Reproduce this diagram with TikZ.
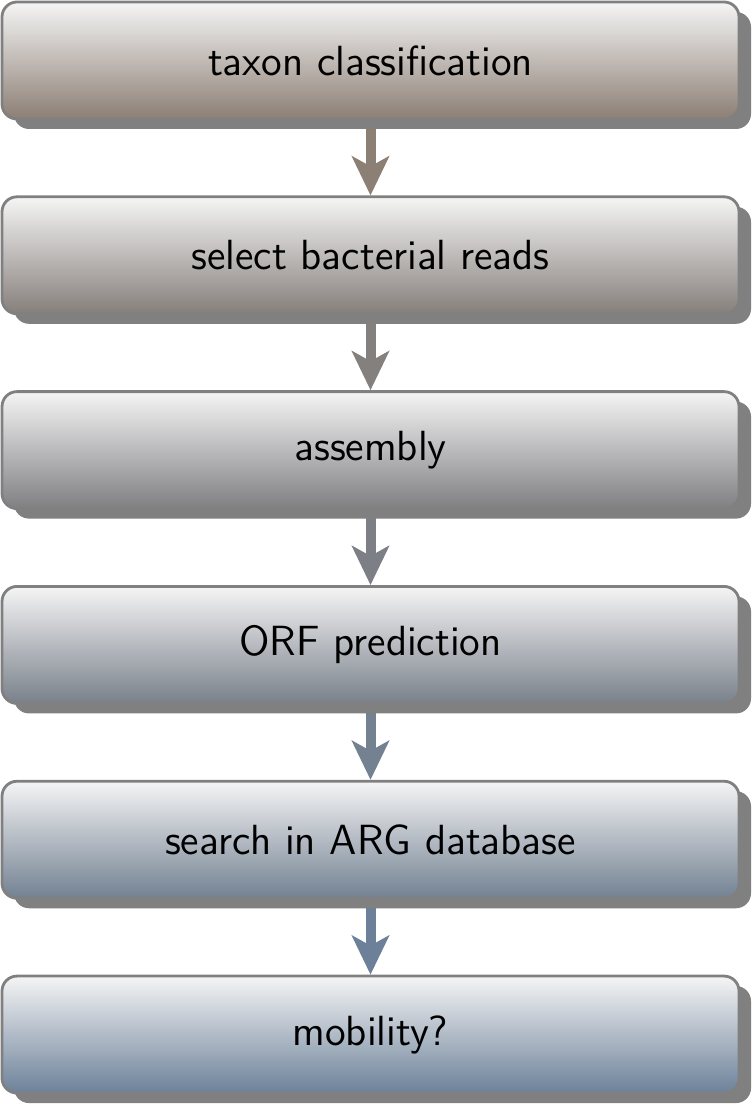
\documentclass[tikz,border=0pt]{standalone}
\usepackage{tikz}
\usetikzlibrary{positioning,arrows.meta,shadows,backgrounds}
\definecolor{earth}{HTML}{8C7F74}
\definecolor{slate}{HTML}{6C8199}
\definecolor{rim}{HTML}{808080}

\tikzset{
  stepbox/.style={draw=rim, line width=0.8pt, rounded corners=0.15cm,
    minimum width=7.37cm, minimum height=1.17cm, font=\sffamily\large,
    top color=white!96!black,
    drop shadow={shadow xshift=0.12cm, shadow yshift=-0.1cm, fill=rim, opacity=1}},
  flow/.style={line width=0.1cm, -{Stealth[length=0.39cm,width=0.37cm,inset=0.1cm]}}
}

\begin{document}
\begin{tikzpicture}
  \useasboundingbox (0,0) rectangle (7.52,-11.04);
  % pipeline steps
  \node[stepbox, bottom color=earth] (taxon) at (3.705,-0.605) {taxon classification};
  \node[stepbox, bottom color=slate!20!earth, below=0.75cm of taxon] (select) {select bacterial reads};
  \node[stepbox, bottom color=slate!40!earth, below=0.75cm of select] (assembly) {assembly};
  \node[stepbox, bottom color=slate!60!earth, below=0.75cm of assembly] (orf) {ORF prediction};
  \node[stepbox, bottom color=slate!80!earth, below=0.75cm of orf] (search) {search in ARG database};
  \node[stepbox, bottom color=slate, below=0.75cm of search] (mobility) {mobility?};
  % connectors under the shadows
  \begin{scope}[on background layer]
    \foreach \a/\b/\m in {taxon/select/0, select/assembly/25, assembly/orf/50, orf/search/75, search/mobility/100}
      \draw[flow, slate!\m!earth] (\a) -- (\b);
  \end{scope}
\end{tikzpicture}
\end{document}
